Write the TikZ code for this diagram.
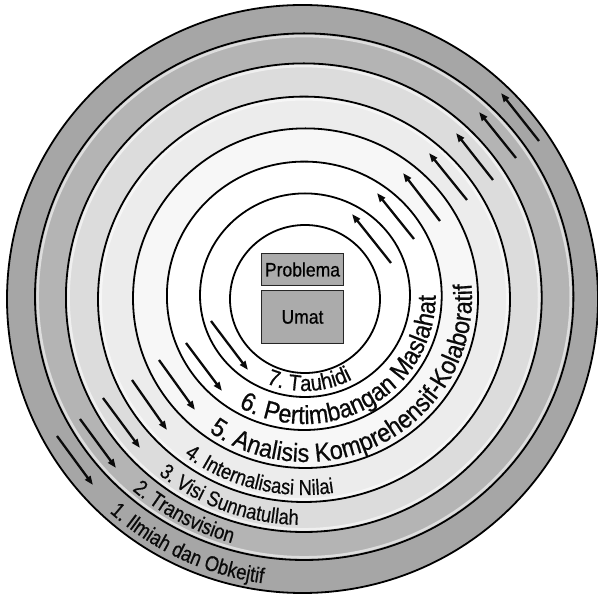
\documentclass[tikz,border=0pt]{standalone}
\usepackage{fontspec}
\setmainfont{Liberation Sans}
\newfontfamily\condA[FakeStretch=0.85,FakeBold=0.6]{Liberation Sans}
\newfontfamily\condB[FakeStretch=0.9,FakeBold=0.6]{Liberation Sans}
\usetikzlibrary{decorations.text,arrows.meta}
\newcommand\labA{\condA\fontsize{21.5pt}{23pt}\selectfont}
\newcommand\labB{\condB\fontsize{26pt}{28pt}\selectfont}
\newcommand\labC{\condB\fontsize{22.5pt}{24pt}\selectfont}
\definecolor{ringA}{HTML}{A6A6A6}
\definecolor{ringB}{HTML}{B4B4B4}
\definecolor{ringC}{HTML}{DCDCDC}
\definecolor{ringD}{HTML}{ECECEC}
\definecolor{ringE}{HTML}{F7F7F7}
\definecolor{boxgray}{HTML}{ABABAB}
\definecolor{ink}{HTML}{0A0A0A}
\begin{document}
\begin{tikzpicture}[x=1pt,y=1pt,
  ring/.style={draw=black, line width=1.8pt},
  hl/.style={draw=white, line width=2.5pt, opacity=0.55},
  flow/.style={draw=ink, line width=2.3pt, -{Triangle[length=9pt,width=6.5pt]}},
  box/.style={draw=black!85, line width=1.3pt, fill=boxgray, minimum width=81pt, inner sep=0pt, text=black, font=\condB\fontsize{19.5pt}{21pt}\selectfont},
  lab/.style={decorate, decoration={text along path, text align=left, text color=ink, text={#1}}}]
\useasboundingbox (0,0) rectangle (598,595);
% centres of the circles
\coordinate (c1) at (302.5,296);
\coordinate (c2) at (304.2,298.3);
\coordinate (c3) at (303.8,297.3);
\coordinate (c4) at (304,295.7);
\coordinate (c5) at (305.5,296.8);
\coordinate (c6) at (304.3,299.2);
\coordinate (c7) at (305,299.8);
\coordinate (c8) at (305,296);
% rings
\path[ring, fill=ringA] (c1) ellipse [x radius=295.5, y radius=294];
\path[ring, fill=ringB] (c2) ellipse [x radius=269.2, y radius=263.3];
\path[hl] (c2) ellipse [x radius=266.5, y radius=260.6];
\path[ring, fill=ringC] (c3) ellipse [x radius=237.9, y radius=234.3];
\path[hl] (c3) ellipse [x radius=235.2, y radius=231.6];
\path[ring, fill=ringD] (c4) ellipse [x radius=206, y radius=202.7];
\path[hl] (c4) ellipse [x radius=203.3, y radius=200];
\path[ring, fill=ringE] (c5) ellipse [x radius=172.5, y radius=169.8];
\path[ring, fill=white] (c6) ellipse [x radius=137.4, y radius=134.2];
\path[ring, fill=white] (c7) ellipse [x radius=105, y radius=101.8];
\path[ring, fill=white] (c8) ellipse [x radius=75, y radius=74];
% labels along the rings
\path[lab={|\labA|1. Ilmiah dan Obkejtif}] ([shift={(228:288.5 and 287)}]c1) arc [start angle=228, end angle=320, x radius=288.5, y radius=287];
\path[lab={|\labA|2. Transvision}] ([shift={(229:262.2 and 256.3)}]c2) arc [start angle=229, end angle=320, x radius=262.2, y radius=256.3];
\path[lab={|\labA|3. Visi Sunnatullah}] ([shift={(231:230.9 and 227.3)}]c3) arc [start angle=231, end angle=330, x radius=230.9, y radius=227.3];
\path[lab={|\labA|4. Internalisasi Nilai}] ([shift={(233:199 and 195.7)}]c4) arc [start angle=233, end angle=340, x radius=199, y radius=195.7];
\path[lab={|\labB|5. Analisis Komprehensif-Kolaboratif}] ([shift={(234.5:166.5 and 163.8)}]c5) arc [start angle=234.5, end angle=400, x radius=166.5, y radius=163.8];
\path[lab={|\labB|6. Pertimbangan Maslahat}] ([shift={(240:131.4 and 128.2)}]c6) arc [start angle=240, end angle=400, x radius=131.4, y radius=128.2];
\path[lab={|\labC|7. Tauhidi}] ([shift={(247:99 and 95.8)}]c7) arc [start angle=247, end angle=340, x radius=99, y radius=95.8];
% arrows, upper right
\coordinate (ua1) at (539,454); \coordinate (ub1) at (501,502);
\coordinate (ua2) at (516,437); \coordinate (ub2) at (479,483);
\coordinate (ua3) at (493,415); \coordinate (ub3) at (456,462);
\coordinate (ua4) at (467,395); \coordinate (ub4) at (429,442);
\coordinate (ua5) at (440,374); \coordinate (ub5) at (403,422);
\coordinate (ua6) at (414,356); \coordinate (ub6) at (377,402);
\coordinate (ua7) at (391,332); \coordinate (ub7) at (352,381);
% arrows, lower left
\coordinate (la1) at (57,159);  \coordinate (lb1) at (93,110);
\coordinate (la2) at (80,176);  \coordinate (lb2) at (116,127);
\coordinate (la3) at (103,197); \coordinate (lb3) at (140,147);
\coordinate (la4) at (132,215); \coordinate (lb4) at (167,165);
\coordinate (la5) at (159,235); \coordinate (lb5) at (195,185);
\coordinate (la6) at (186,252); \coordinate (lb6) at (222,204);
\coordinate (la7) at (211,274); \coordinate (lb7) at (248,225);
\foreach \i in {1,...,7}{
  \draw[flow] (ua\i) -- (ub\i);
  \draw[flow] (la\i) -- (lb\i);
}
% central boxes
\node[box, minimum height=31pt] (prob) at (302.5,325.5) {Problema};
\node[box, minimum height=52pt] (umat) at (302.5,278) {Umat};
\draw[white, opacity=0.6, line width=0.8pt] ([shift={(1.4,1.4)}]prob.south west) rectangle ([shift={(-1.4,-1.4)}]prob.north east);
\draw[white, opacity=0.6, line width=0.8pt] ([shift={(1.4,1.4)}]umat.south west) rectangle ([shift={(-1.4,-1.4)}]umat.north east);
\end{tikzpicture}
\end{document}
